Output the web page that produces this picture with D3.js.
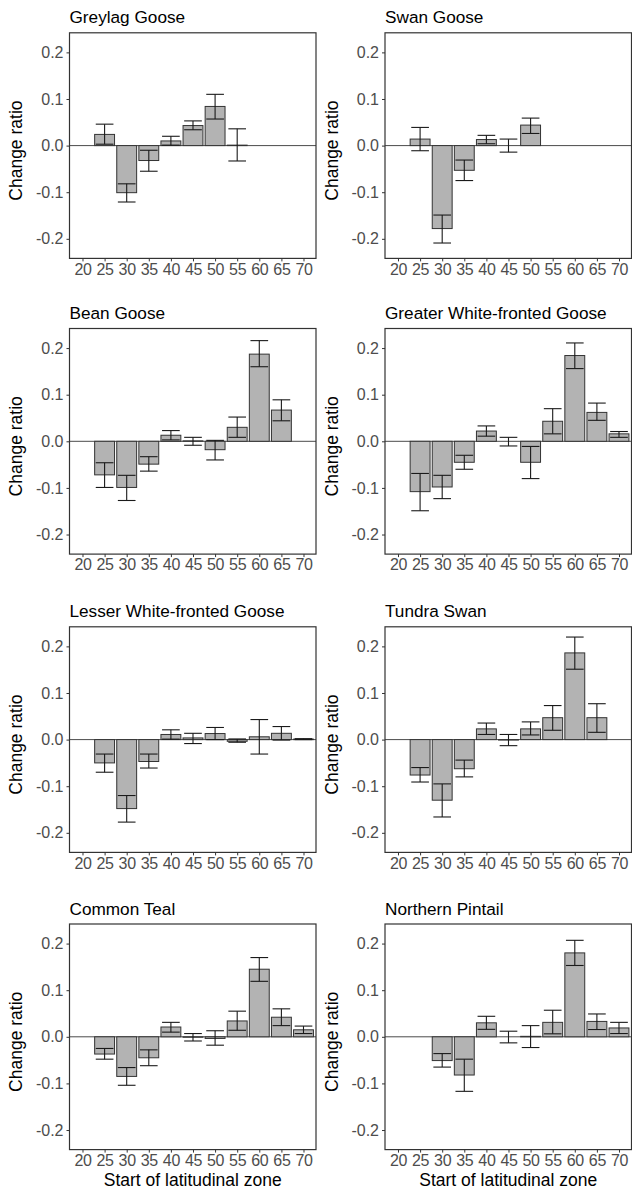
<!DOCTYPE html>
<html>
<head>
<meta charset="utf-8">
<script src="https://cdn.jsdelivr.net/npm/d3@7"></script>
<style>
  html, body { margin: 0; padding: 0; background: #fff; }
  svg { display: block; font-family: "Liberation Sans", Arial, sans-serif; }
</style>
</head>
<body>
<svg id="chart" width="632" height="1192"></svg>
<script>
// ---- data ----
const zones = [20, 25, 30, 35, 40, 45, 50, 55, 60, 65, 70];
const yTicks = [-0.2, -0.1, 0.0, 0.1, 0.2];
const species = ["Greylag Goose", "Swan Goose", "Bean Goose", "Greater White-fronted Goose",
                 "Lesser White-fronted Goose", "Tundra Swan", "Common Teal", "Northern Pintail"];

const greylagMean = [null, 0.024, -0.101, -0.032, 0.010, 0.043, 0.084, 0.001, null, null, null];
const greylagLo   = [null, 0.003, -0.121, -0.055, 0.001, 0.034, 0.057, -0.033, null, null, null];
const greylagHi   = [null, 0.046, -0.082, -0.010, 0.020, 0.053, 0.110, 0.036, null, null, null];

const swanMean = [null, 0.014, -0.178, -0.053, 0.013, 0.000, 0.044, null, null, null, null];
const swanLo   = [null, -0.011, -0.209, -0.075, 0.004, -0.014, 0.026, null, null, null, null];
const swanHi   = [null, 0.039, -0.149, -0.031, 0.022, 0.014, 0.059, null, null, null, null];

const beanMean = [null, -0.072, -0.099, -0.049, 0.013, 0.001, -0.018, 0.030, 0.187, 0.067, null];
const beanLo   = [null, -0.099, -0.127, -0.064, 0.003, -0.0085, -0.040, 0.0085, 0.160, 0.044, null];
const beanHi   = [null, -0.046, -0.073, -0.033, 0.023, 0.0085, 0.002, 0.052, 0.216, 0.089, null];

const gwfMean = [null, -0.108, -0.098, -0.045, 0.022, 0.000, -0.045, 0.043, 0.184, 0.062, 0.016];
const gwfLo   = [null, -0.149, -0.123, -0.060, 0.011, -0.010, -0.080, 0.016, 0.156, 0.045, 0.0085];
const gwfHi   = [null, -0.069, -0.073, -0.030, 0.033, 0.0085, -0.011, 0.070, 0.211, 0.082, 0.021];

const lwfMean = [null, -0.050, -0.148, -0.047, 0.011, 0.0036, 0.013, -0.0036, 0.006, 0.0135, 0.001];
const lwfLo   = [null, -0.070, -0.177, -0.061, 0.001, -0.0085, 0.000, -0.0057, -0.031, -0.001, 0.000];
const lwfHi   = [null, -0.031, -0.120, -0.031, 0.021, 0.0135, 0.026, 0.0014, 0.043, 0.028, 0.002];

const tundraMean = [null, -0.076, -0.130, -0.0625, 0.023, -0.001, 0.023, 0.047, 0.186, 0.047, null];
const tundraLo   = [null, -0.091, -0.166, -0.080, 0.011, -0.013, 0.010, 0.020, 0.151, 0.0156, null];
const tundraHi   = [null, -0.060, -0.095, -0.044, 0.0355, 0.011, 0.038, 0.073, 0.220, 0.077, null];

const tealMean = [null, -0.037, -0.085, -0.045, 0.021, -0.001, -0.0035, 0.034, 0.145, 0.042, 0.015];
const tealLo   = [null, -0.048, -0.104, -0.062, 0.010, -0.009, -0.018, 0.014, 0.119, 0.024, 0.007];
const tealHi   = [null, -0.025, -0.066, -0.028, 0.031, 0.007, 0.013, 0.055, 0.170, 0.060, 0.023];

const pintailMean = [null, null, -0.051, -0.082, 0.030, 0.000, 0.001, 0.031, 0.180, 0.033, 0.019];
const pintailLo   = [null, null, -0.065, -0.117, 0.016, -0.013, -0.023, 0.0064, 0.153, 0.0156, 0.007];
const pintailHi   = [null, null, -0.036, -0.048, 0.044, 0.012, 0.024, 0.057, 0.207, 0.049, 0.031];

const seriesMean = [greylagMean, swanMean, beanMean, gwfMean, lwfMean, tundraMean, tealMean, pintailMean];
const seriesLo   = [greylagLo, swanLo, beanLo, gwfLo, lwfLo, tundraLo, tealLo, pintailLo];
const seriesHi   = [greylagHi, swanHi, beanHi, gwfHi, lwfHi, tundraHi, tealHi, pintailHi];

// ---- layout ----
const svg = d3.select("#chart");
const colLeft = [69.5, 385];
const rowTop = [32.8, 328.5, 626.8, 924];
const boxW = 246.5, boxH = 225.6;

const x = d3.scaleLinear().domain([17.06, 72.83]).range([0, boxW]);
const y = d3.scaleLinear().domain([-0.242, 0.242]).range([boxH, 0]);
const barW = x(24.5) - x(20);
const whiskW = x(24) - x(20);

species.forEach((name, i) => {
  const col = i % 2, row = Math.floor(i / 2);
  const g = svg.append("g").attr("transform", `translate(${colLeft[col]},${rowTop[row]})`);
  const rows = zones.map((z, k) => ({ z, m: seriesMean[i][k], lo: seriesLo[i][k], hi: seriesHi[i][k] }))
                    .filter(d => d.m !== null);

  // title
  g.append("text").attr("x", 0).attr("y", -9.5)
    .attr("font-size", 17.2).attr("fill", "#000").text(name);

  // zero line
  g.append("line").attr("x1", 0).attr("x2", boxW).attr("y1", y(0)).attr("y2", y(0))
    .attr("stroke", "#4a4a4a").attr("stroke-width", 1);

  // bars
  g.selectAll("rect.bar").data(rows).join("rect").attr("class", "bar")
    .attr("x", d => x(d.z) - barW / 2)
    .attr("width", barW)
    .attr("y", d => y(Math.max(0, d.m)))
    .attr("height", d => Math.abs(y(d.m) - y(0)))
    .attr("fill", "#b3b3b3").attr("stroke", "#333").attr("stroke-width", 1);

  // error bars
  const eb = g.selectAll("g.eb").data(rows).join("g").attr("class", "eb")
    .attr("stroke", "#1a1a1a").attr("stroke-width", 1.1);
  eb.append("line").attr("x1", d => x(d.z)).attr("x2", d => x(d.z))
    .attr("y1", d => y(d.lo)).attr("y2", d => y(d.hi));
  eb.append("line").attr("x1", d => x(d.z) - whiskW / 2).attr("x2", d => x(d.z) + whiskW / 2)
    .attr("y1", d => y(d.lo)).attr("y2", d => y(d.lo));
  eb.append("line").attr("x1", d => x(d.z) - whiskW / 2).attr("x2", d => x(d.z) + whiskW / 2)
    .attr("y1", d => y(d.hi)).attr("y2", d => y(d.hi));

  // axes
  const yAxis = g.append("g").call(d3.axisLeft(y).tickValues(yTicks).tickSize(3).tickPadding(3)
      .tickFormat(d => d.toFixed(1)));
  const xAxis = g.append("g").attr("transform", `translate(0,${boxH})`)
    .call(d3.axisBottom(x).tickValues(zones).tickSize(3).tickPadding(2).tickFormat(d3.format("d")));
  [yAxis, xAxis].forEach(a => {
    a.select(".domain").remove();
    a.selectAll(".tick line").attr("stroke", "#333").attr("stroke-width", 1);
    a.selectAll(".tick text").attr("fill", "#4d4d4d").attr("font-size", 16)
      .attr("font-family", "Liberation Sans, Arial, sans-serif");
  });
  xAxis.selectAll(".tick text").attr("letter-spacing", -0.3);

  // panel border
  g.append("rect").attr("x", 0).attr("y", 0).attr("width", boxW).attr("height", boxH)
    .attr("fill", "none").attr("stroke", "#333").attr("stroke-width", 1.2);

  // y-axis title
  g.append("text").attr("transform", `translate(${-47.5},${boxH / 2 + 5}) rotate(-90)`)
    .attr("text-anchor", "middle").attr("font-size", 17.5).attr("fill", "#000").text("Change ratio");

  // x-axis title (bottom row)
  if (row === 3) {
    g.append("text").attr("x", boxW / 2).attr("y", boxH + 36.5)
      .attr("text-anchor", "middle").attr("font-size", 17.5).attr("fill", "#000")
      .text("Start of latitudinal zone");
  }
});
</script>
</body>
</html>
